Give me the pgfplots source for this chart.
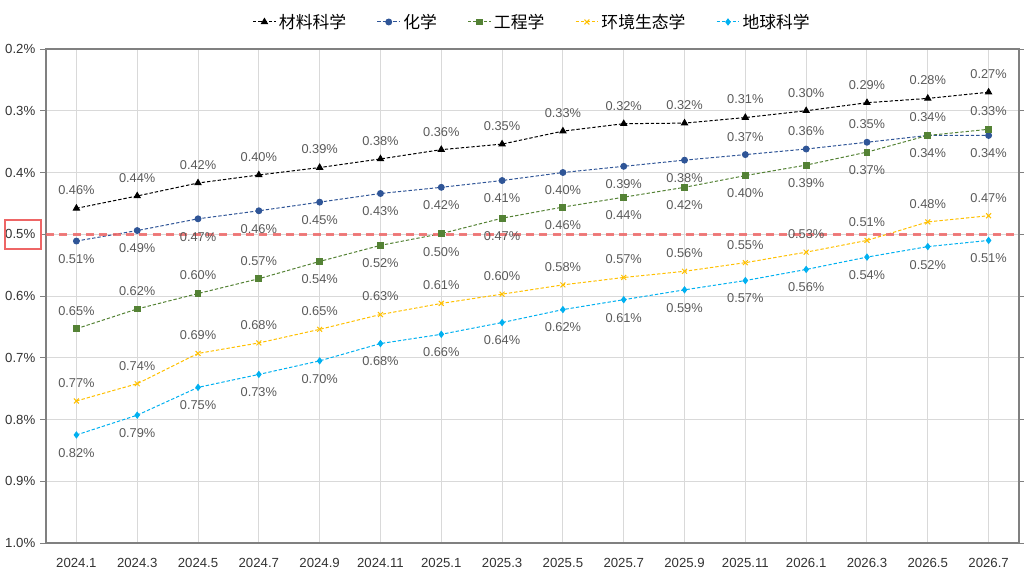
\documentclass[border=0pt]{standalone}
\usepackage{fontspec}
\setmainfont{Liberation Sans}
\newfontfamily\cjk{Noto Sans CJK SC}
\usepackage{pgfplots}
\pgfplotsset{compat=1.18}
\usepackage{pgfplotstable}
\definecolor{cmat}{HTML}{000000}
\definecolor{cchem}{HTML}{2F5597}
\definecolor{ceng}{HTML}{548235}
\definecolor{cenv}{HTML}{FFC000}
\definecolor{cgeo}{HTML}{00B0F0}
\definecolor{labgray}{HTML}{595959}
\definecolor{gridgray}{HTML}{D9D9D9}
\definecolor{framegray}{HTML}{808080}
\definecolor{refred}{HTML}{EE6666}

\pgfplotstableread{
x y lab pos
0 0.458 0.46 1
1 0.438 0.44 1
2 0.417 0.42 1
3 0.404 0.40 1
4 0.392 0.39 1
5 0.378 0.38 1
6 0.363 0.36 1
7 0.354 0.35 1
8 0.333 0.33 1
9 0.321 0.32 1
10 0.320 0.32 1
11 0.311 0.31 1
12 0.300 0.30 1
13 0.287 0.29 1
14 0.280 0.28 1
15 0.270 0.27 1
}\matdata

\pgfplotstableread{
x y lab pos
0 0.511 0.51 -1
1 0.494 0.49 -1
2 0.475 0.47 -1
3 0.462 0.46 -1
4 0.448 0.45 -1
5 0.434 0.43 -1
6 0.424 0.42 -1
7 0.413 0.41 -1
8 0.400 0.40 -1
9 0.390 0.39 -1
10 0.380 0.38 -1
11 0.371 0.37 1
12 0.362 0.36 1
13 0.351 0.35 1
14 0.340 0.34 1
15 0.340 0.34 -1
}\chemdata

\pgfplotstableread{
x y lab pos
0 0.653 0.65 1
1 0.621 0.62 1
2 0.596 0.60 1
3 0.572 0.57 1
4 0.544 0.54 -1
5 0.518 0.52 -1
6 0.499 0.50 -1
7 0.474 0.47 -1
8 0.456 0.46 -1
9 0.440 0.44 -1
10 0.424 0.42 -1
11 0.405 0.40 -1
12 0.388 0.39 -1
13 0.367 0.37 -1
14 0.340 0.34 -1
15 0.330 0.33 1
}\engdata

\pgfplotstableread{
x y lab pos
0 0.770 0.77 1
1 0.742 0.74 1
2 0.693 0.69 1
3 0.676 0.68 1
4 0.654 0.65 1
5 0.630 0.63 1
6 0.612 0.61 1
7 0.597 0.60 1
8 0.582 0.58 1
9 0.570 0.57 1
10 0.560 0.56 1
11 0.546 0.55 1
12 0.529 0.53 1
13 0.510 0.51 1
14 0.480 0.48 1
15 0.470 0.47 1
}\envdata

\pgfplotstableread{
x y lab pos
0 0.825 0.82 -1
1 0.793 0.79 -1
2 0.748 0.75 -1
3 0.727 0.73 -1
4 0.705 0.70 -1
5 0.677 0.68 -1
6 0.662 0.66 -1
7 0.643 0.64 -1
8 0.622 0.62 -1
9 0.606 0.61 -1
10 0.590 0.59 -1
11 0.575 0.57 -1
12 0.557 0.56 -1
13 0.537 0.54 -1
14 0.520 0.52 -1
15 0.510 0.51 -1
}\geodata

\pgfplotsset{
  lab/.style={
    forget plot, draw=none, no marks,
    nodes near coords={\pgfplotspointmeta\%},
    point meta=explicit symbolic,
    every node near coord/.append style={font=\fontsize{9.6}{11}\selectfont, color=labgray, anchor=center, inner sep=0pt},
  },
  labup/.style={lab, every node near coord/.append style={yshift=13.5pt},
    restrict expr to domain={\thisrow{pos}}{0:2}},
  labdn/.style={lab, every node near coord/.append style={yshift=-13.5pt},
    restrict expr to domain={\thisrow{pos}}{-2:0}},
  ser/.style={color=#1, line width=0.75pt, dash pattern=on 2.5pt off 1.5pt, mark options={solid, fill=#1, draw=#1}},
}

\begin{document}
\begin{tikzpicture}
\useasboundingbox (-34.5pt,-25.5pt) rectangle (733.5pt,407.25pt);
\begin{axis}[
  at={(0,0)}, anchor=south west, scale only axis,
  width=729.75pt, height=370.5pt,
  xmin=-0.5, xmax=15.5, ymin=0.2, ymax=1.0, y dir=reverse,
  xtick={0,...,15},
  xticklabels={2024.1,2024.3,2024.5,2024.7,2024.9,2024.11,2025.1,2025.3,2025.5,2025.7,2025.9,2025.11,2026.1,2026.3,2026.5,2026.7},
  ytick={0.2,0.3,0.4,0.5,0.6,0.7,0.8,0.9,1.0},
  yticklabel={\pgfmathprintnumber[fixed,fixed zerofill,precision=1]{\tick}\%},
  /pgf/number format/assume math mode=true,
  grid=major, grid style={gridgray, line width=0.75pt},
  axis line style={framegray, line width=1.9pt},
  tick label style={font=\fontsize{9.9}{11}\selectfont, color=black!80},
  xticklabel style={yshift=-3.5pt},
  xtick style={draw=none},
  ytick style={framegray, line width=0.75pt},
  tick align=outside, major tick length=4.5pt,
  legend style={at={(0.5,1.0547)}, anchor=center, draw=none, fill=none,
    legend columns=5, font=\cjk\fontsize{12.6}{14}\selectfont,
    /tikz/every even column/.append style={column sep=21pt}},
  legend cell align=left,
]
\addplot[ser=cmat, mark=triangle*, mark size=2.6pt] table[x=x,y=y] {\matdata};
\addlegendentry{材料科学}
\addplot[ser=cchem, mark=*, mark size=2.2pt] table[x=x,y=y] {\chemdata};
\addlegendentry{化学}
\addplot[ser=ceng, mark=square*, mark size=2.2pt] table[x=x,y=y] {\engdata};
\addlegendentry{工程学}
\addplot[ser=cenv, mark=x, mark size=2.6pt] table[x=x,y=y] {\envdata};
\addlegendentry{环境生态学}
\addplot[ser=cgeo, mark=diamond*, mark size=2.2pt] table[x=x,y=y] {\geodata};
\addlegendentry{地球科学}
\addplot[forget plot, refred, opacity=0.85, line width=1.9pt, dash pattern=on 6pt off 4pt, no marks] coordinates {(-0.5,0.5) (15.5,0.5)};
\addplot[labup] table[x=x,y=y,meta=lab] {\matdata};
\addplot[labup] table[x=x,y=y,meta=lab] {\chemdata};
\addplot[labdn] table[x=x,y=y,meta=lab] {\chemdata};
\addplot[labup] table[x=x,y=y,meta=lab] {\engdata};
\addplot[labdn] table[x=x,y=y,meta=lab] {\engdata};
\addplot[labup] table[x=x,y=y,meta=lab] {\envdata};
\addplot[labdn] table[x=x,y=y,meta=lab] {\geodata};
\end{axis}
\draw[refred, line width=1.1pt] (-30.75pt,220.5pt) rectangle (-3.75pt,242.25pt);
\end{tikzpicture}
\end{document}
